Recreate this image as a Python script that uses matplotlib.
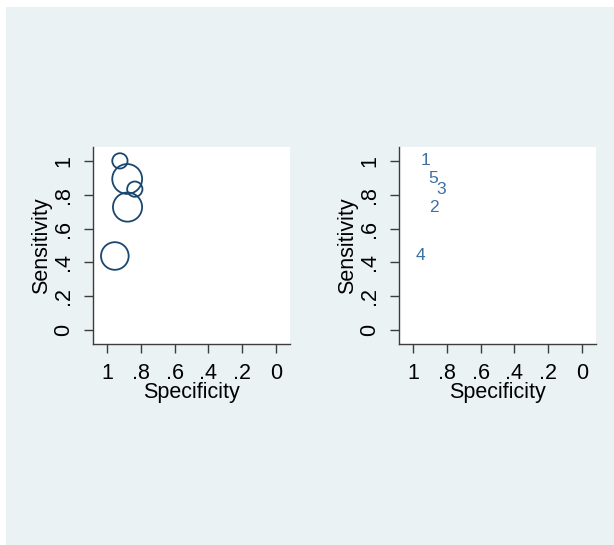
import numpy as np
import matplotlib.pyplot as plt
from matplotlib.patches import Rectangle

plt.rcParams['font.family'] = ['Liberation Sans', 'DejaVu Sans']

# Study data
study_id = ['1', '2', '3', '4', '5']
specificity = [0.923, 0.878, 0.835, 0.953, 0.880]
sensitivity = [1.000, 0.727, 0.833, 0.438, 0.893]
weight = [11, 40, 11, 36, 42]

ticks = [1, 0.8, 0.6, 0.4, 0.2, 0]
tick_labels = ['1', '.8', '.6', '.4', '.2', '0']

bg = '#eaf2f3'
navy = '#1a476f'
label_blue = '#3d6fa3'
axis_col = '#3c3c3c'

fig = plt.figure(figsize=(6.14, 5.45), dpi=100, facecolor='white')
fig.add_artist(Rectangle((6 / 614, 0), 1, 1 - 7 / 545, transform=fig.transFigure,
                         facecolor=bg, edgecolor='none', zorder=-10))

w = 197 / 614
h = 197 / 545
bottom = (545 - 344) / 545
ax1 = fig.add_axes([93 / 614, bottom, w, h])
ax2 = fig.add_axes([399 / 614, bottom, w, h])

sizes = np.array(weight) * 11.0
ax1.scatter(specificity, sensitivity, s=sizes, facecolors='none',
            edgecolors=navy, linewidths=1.3, zorder=3, clip_on=False)

for sid, x, y in zip(study_id, specificity, sensitivity):
    ax2.text(x, y, sid, ha='center', va='center', fontsize=12.5, color=label_blue)

for ax in (ax1, ax2):
    ax.set_facecolor('white')
    ax.set_xlim(1.082, -0.082)
    ax.set_ylim(-0.082, 1.082)
    ax.set_xticks(ticks)
    ax.set_xticklabels(tick_labels)
    ax.set_yticks(ticks)
    ax.set_yticklabels(tick_labels, rotation=90, va='center')
    for side in ('top', 'right'):
        ax.spines[side].set_visible(False)
    for side in ('left', 'bottom'):
        ax.spines[side].set_color(axis_col)
        ax.spines[side].set_linewidth(1.0)
    ax.tick_params(direction='out', length=6.5, width=1.0, color=axis_col,
                   labelsize=15.5, pad=7)
    ax.set_xlabel('Specificity', fontsize=15.5, labelpad=-1)
    ax.set_ylabel('Sensitivity', fontsize=15.5, labelpad=1)

fig.savefig('out.png', dpi=100, facecolor=fig.get_facecolor())
